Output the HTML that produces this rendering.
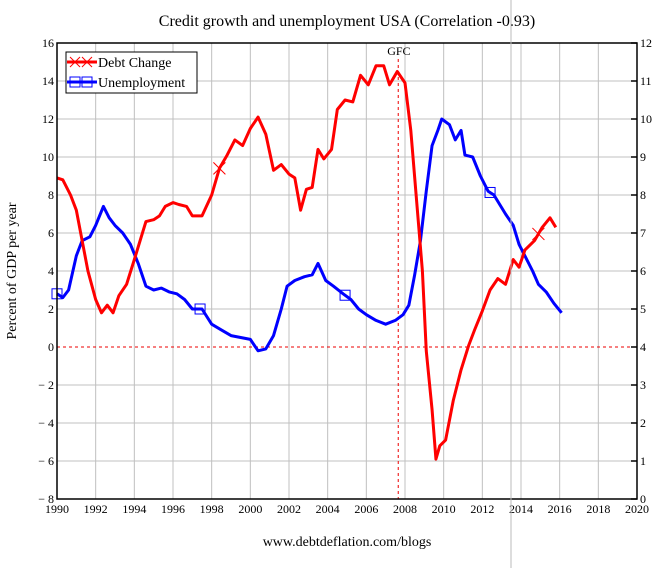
<!DOCTYPE html>
<html><head><meta charset="utf-8"><style>
body{margin:0;background:#fff;}
svg{display:block;font-family:"Liberation Serif",serif;}
</style></head><body>
<svg id="c" width="666" height="568" viewBox="0 0 666 568">
<rect width="666" height="568" fill="#fff"/>
<g id="grid"></g>
<g id="marks"></g>
<g id="axes"></g>
</svg>
<script>
const years=[1990,1990.3,1990.7,1991,1991.3,1991.6,1992,1992.3,1992.6,1992.9,1993.2,1993.6,1994,1994.3,1994.6,1995,1995.3,1995.6,1996,1996.3,1996.7,1997,1997.5,1998,1998.4,1998.8,1999.2,1999.6,2000,2000.4,2000.8,2001.2,2001.6,2002,2002.3,2002.6,2002.9,2003.2,2003.5,2003.8,2004.2,2004.5,2004.9,2005.3,2005.7,2006.1,2006.5,2006.9,2007.2,2007.6,2008,2008.3,2008.6,2008.9,2009.1,2009.4,2009.6,2009.8,2010.1,2010.5,2010.9,2011.3,2011.6,2012,2012.4,2012.8,2013.2,2013.6,2013.9,2014.2,2014.7,2015.1,2015.5,2015.8];
const debtChange=[8.9,8.8,8.0,7.2,5.6,4.0,2.5,1.8,2.2,1.8,2.7,3.3,4.6,5.6,6.6,6.7,6.9,7.4,7.6,7.5,7.4,6.9,6.9,8.0,9.4,10.1,10.9,10.6,11.5,12.1,11.2,9.3,9.6,9.1,8.9,7.2,8.3,8.4,10.4,9.9,10.4,12.5,13.0,12.9,14.3,13.8,14.8,14.8,13.8,14.5,13.9,11.4,7.7,4.0,-0.2,-3.3,-5.9,-5.2,-4.9,-2.8,-1.2,0.1,0.9,1.9,3.0,3.6,3.3,4.6,4.2,5.1,5.6,6.3,6.8,6.3];
const uYears=[1990,1990.3,1990.6,1991,1991.3,1991.7,1992,1992.4,1992.7,1993,1993.4,1993.8,1994.2,1994.6,1995,1995.4,1995.8,1996.2,1996.6,1997,1997.5,1998,1998.5,1999,1999.5,2000,2000.4,2000.8,2001.2,2001.6,2001.9,2002.3,2002.8,2003.2,2003.5,2003.9,2004.3,2004.8,2005.2,2005.6,2006,2006.5,2007,2007.5,2007.9,2008.2,2008.5,2008.8,2009.1,2009.4,2009.7,2009.9,2010.3,2010.6,2010.9,2011.1,2011.5,2011.9,2012.3,2012.6,2012.9,2013.2,2013.6,2013.9,2014.2,2014.6,2014.9,2015.3,2015.7,2016.1];
const unemployment=[5.4,5.3,5.5,6.4,6.8,6.9,7.2,7.7,7.4,7.2,7.0,6.7,6.2,5.6,5.5,5.55,5.45,5.4,5.25,5.0,5.0,4.6,4.45,4.3,4.25,4.2,3.9,3.95,4.3,5.0,5.6,5.75,5.85,5.9,6.2,5.75,5.6,5.4,5.25,5.0,4.85,4.7,4.6,4.7,4.85,5.1,5.9,6.8,8.1,9.3,9.7,10.0,9.85,9.45,9.7,9.05,9.0,8.5,8.1,8.0,7.75,7.5,7.2,6.7,6.4,6.0,5.65,5.45,5.15,4.9];
const leftTicks=[16,14,12,10,8,6,4,2,0,-2,-4,-6,-8];
const rightTicks=[12,11,10,9,8,7,6,5,4,3,2,1,0];
const xTicks=[1990,1992,1994,1996,1998,2000,2002,2004,2006,2008,2010,2012,2014,2016,2018,2020];
const debtMarkers=[1998.4,2014.9];
const unempMarkers=[1990,1997.4,2004.9,2012.4];
const gfcYear=2007.65;

const X0=57,X1=637,Y0=43,Y1=499;
const xs=y=>X0+(y-1990)/30*(X1-X0);
const yl=v=>Y0+(16-v)/24*(Y1-Y0);
const yr=v=>Y0+(12-v)/12*(Y1-Y0);
const NS="http://www.w3.org/2000/svg";
function mk(p,tag,a,txt){const e=document.createElementNS(NS,tag);for(const k in a)e.setAttribute(k,a[k]);if(txt!==undefined)e.textContent=txt;p.appendChild(e);return e;}
function interp(xa,ya,x){for(let i=0;i<xa.length-1;i++){if(x>=xa[i]&&x<=xa[i+1]){const t=(x-xa[i])/(xa[i+1]-xa[i]);return ya[i]+t*(ya[i+1]-ya[i]);}}return ya[ya.length-1];}
const grid=document.getElementById('grid'),marks=document.getElementById('marks'),axes=document.getElementById('axes');

xTicks.forEach(t=>{if(t>1990&&t<2020){const l=mk(grid,'line',{x1:xs(t),x2:xs(t),y1:Y0,y2:Y1,stroke:'#c0c0c0','stroke-width':1});

}});
leftTicks.forEach(t=>{if(t<16&&t>-8&&t!==0){const l=mk(grid,'line',{x1:X0,x2:X1,y1:yl(t),y2:yl(t),stroke:'#c0c0c0','stroke-width':1});

}});
const zl=mk(grid,'line',{x1:X0,x2:X1,y1:yl(0),y2:yl(0),stroke:'#e00','stroke-width':1,'stroke-dasharray':'3,3'});


const gl=mk(grid,'line',{x1:xs(gfcYear),x2:xs(gfcYear),y1:Y0+16,y2:Y1,stroke:'#e00','stroke-width':1,'stroke-dasharray':'3,3'});


const gt=mk(grid,'text',{x:xs(gfcYear)-11,y:Y0+12,'font-size':12},'GFC');



const up=mk(marks,'polyline',{points:uYears.map((y,i)=>xs(y)+','+yr(unemployment[i])).join(' '),fill:'none',stroke:'#00f','stroke-width':3,'stroke-linejoin':'round'});


const dp=mk(marks,'polyline',{points:years.map((y,i)=>xs(y)+','+yl(debtChange[i])).join(' '),fill:'none',stroke:'#f00','stroke-width':3,'stroke-linejoin':'round'});


debtMarkers.forEach(t=>{const cx=xs(t),cy=yl(interp(years,debtChange,t));const g=mk(marks,'path',{d:`M${cx-6},${cy-6}L${cx+6},${cy+6}M${cx-6},${cy+6}L${cx+6},${cy-6}`,stroke:'#f00','stroke-width':1});

});
unempMarkers.forEach(t=>{const cx=xs(t),cy=yr(interp(uYears,unemployment,t));const g=mk(marks,'rect',{x:cx-5,y:cy-5,width:10,height:10,fill:'none',stroke:'#00f','stroke-width':1});

});

const fr=mk(axes,'rect',{x:X0,y:Y0,width:X1-X0,height:Y1-Y0,fill:'none',stroke:'#000','stroke-width':1.5});


leftTicks.forEach(t=>{const tx=mk(axes,'text',{x:X0-3,y:yl(t)+4,'text-anchor':'end','font-size':12},t<0?'\u2212 '+(-t):String(t));

});
rightTicks.forEach(t=>{mk(axes,'line',{x1:X1-6,x2:X1,y1:yr(t),y2:yr(t),stroke:'#000','stroke-width':1.5});
const tx=mk(axes,'text',{x:X1+3,y:yr(t)+4,'font-size':12},String(t));

});
xTicks.forEach(t=>{const tx=mk(axes,'text',{x:xs(t),y:Y1+14,'text-anchor':'middle','font-size':12},String(t));

});

const ti=mk(axes,'text',{x:347,y:26,'text-anchor':'middle','font-size':16},'Credit growth and unemployment USA (Correlation -0.93)');


const ya=mk(axes,'text',{x:0,y:0,'text-anchor':'middle','font-size':14,transform:'translate(16,271) rotate(-90)'},'Percent of GDP per year');


const ur=mk(axes,'text',{x:347,y:546,'text-anchor':'middle','font-size':14},'www.debtdeflation.com/blogs');


const vl=mk(axes,'line',{x1:511,x2:511,y1:0,y2:568,stroke:'#bbb','stroke-width':1});



const lg=mk(axes,'g',{});


mk(lg,'rect',{x:66,y:52,width:131,height:41,fill:'#fff',stroke:'#000','stroke-width':1});
const e1=mk(lg,'g',{});


mk(e1,'line',{x1:67,x2:97,y1:62,y2:62,stroke:'#f00','stroke-width':3});
mk(e1,'path',{d:'M70,57L80,67M70,67L80,57M82,57L92,67M82,67L92,57',stroke:'#f00','stroke-width':1});
mk(e1,'text',{x:98,y:67,'font-size':14},'Debt Change');
const e2=mk(lg,'g',{});


mk(e2,'line',{x1:67,x2:97,y1:82,y2:82,stroke:'#00f','stroke-width':3});
mk(e2,'rect',{x:70,y:77,width:10,height:10,fill:'none',stroke:'#00f','stroke-width':1});
mk(e2,'rect',{x:82,y:77,width:10,height:10,fill:'none',stroke:'#00f','stroke-width':1});
mk(e2,'text',{x:98,y:87,'font-size':14},'Unemployment');
</script>
</body></html>
